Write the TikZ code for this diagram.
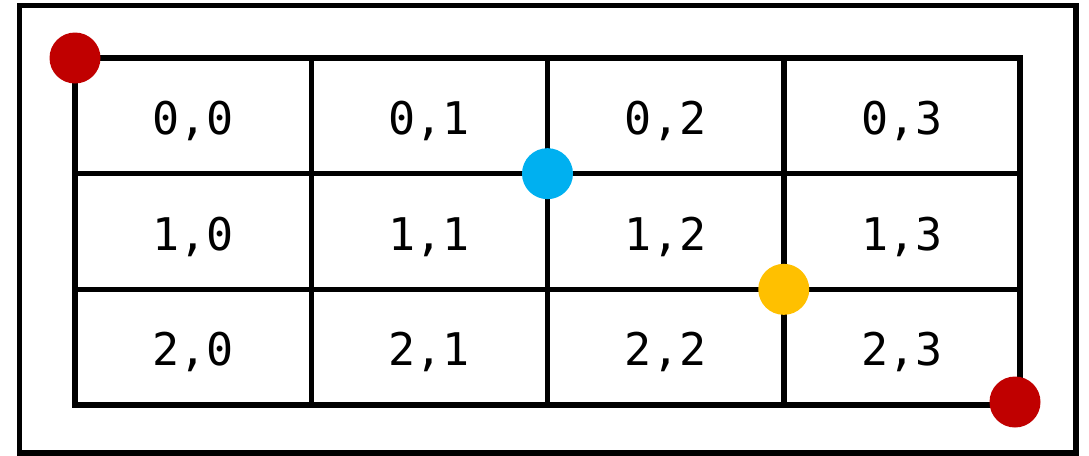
\documentclass[tikz,border=0pt]{standalone}
\usepackage{fontspec}
\newfontfamily\cellfont{DejaVu Sans Mono}
\definecolor{dotred}{HTML}{C00000}
\definecolor{dotblue}{HTML}{00B0F0}
\definecolor{dotorange}{HTML}{FFC000}
\begin{document}
\begin{tikzpicture}[x=1pt,y=-1pt,
  cell/.style={draw=black,line width=5.5pt,minimum width=236.25pt,minimum height=115.67pt,
    inner sep=0pt,outer sep=0pt,font=\cellfont\fontsize{45}{54}\selectfont},
  dot/.style={circle,inner sep=0pt,minimum size=51pt}]
\useasboundingbox (0,0) rectangle (1089,455);
\draw[line width=5.5pt] (19.5,5.5) rectangle (1076,453);
\foreach \r in {0,1,2}{
  \foreach \c in {0,1,2,3}{
    \node[cell] (c\r\c) at ({75+236.25*(\c+0.5)},{58+115.67*(\r+0.5)}) {\raisebox{-18.5pt}[0pt][0pt]{\r,\c}};
  }
}
\node[dot,fill=dotred] (r1) at (c00.north west) {};
\node[dot,fill=dotblue] (b1) at (c12.north west) {};
\node[dot,fill=dotorange] (o1) at (c23.north west) {};
\node[dot,fill=dotred] (r2) at ([shift={(-5,-3)}]c23.south east) {};
\end{tikzpicture}
\end{document}
